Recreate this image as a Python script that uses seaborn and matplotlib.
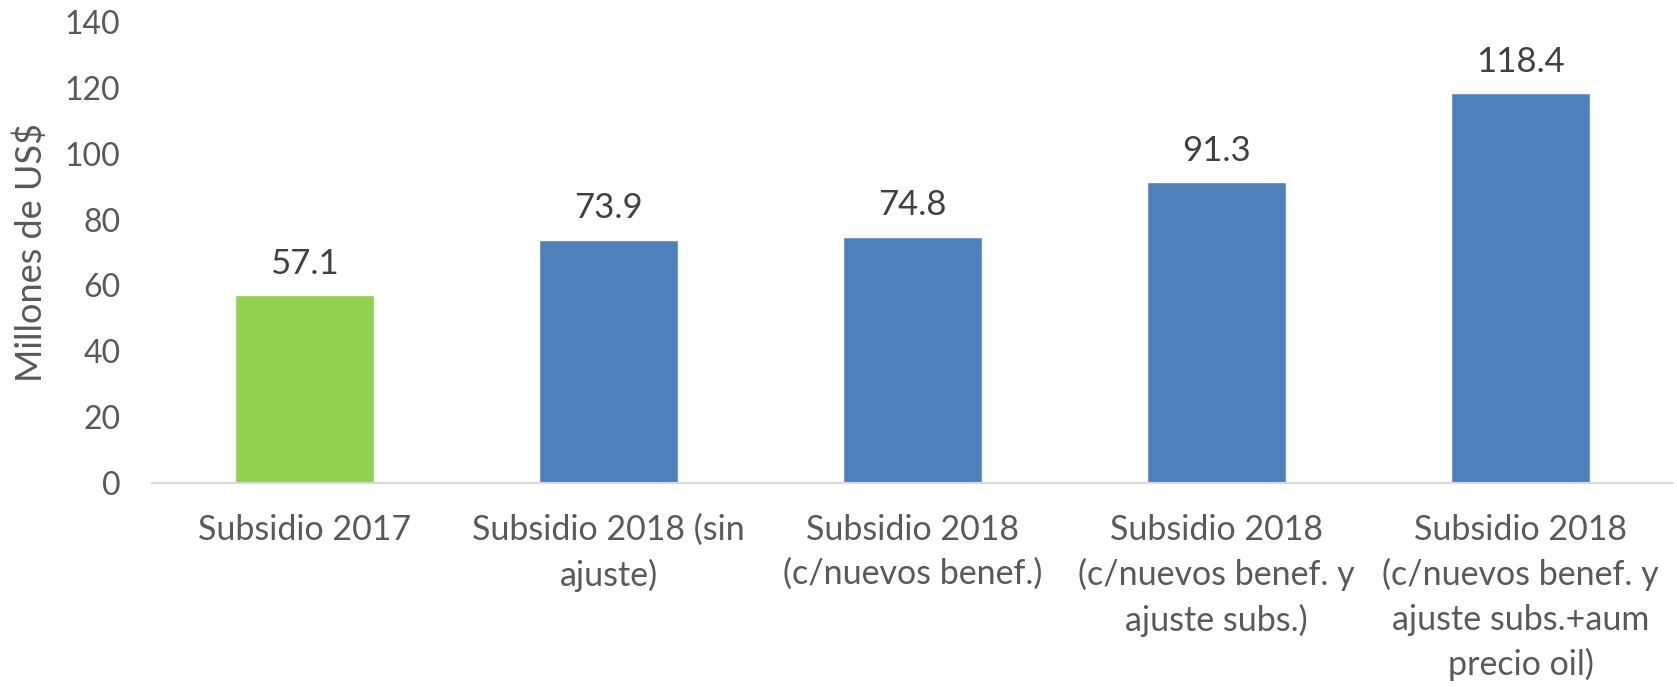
import matplotlib
matplotlib.use("Agg")
import matplotlib.pyplot as plt
import seaborn as sns
import pandas as pd

categorias = [
    "Subsidio 2017",
    "Subsidio 2018 (sin\najuste)",
    "Subsidio 2018\n(c/nuevos benef.)",
    "Subsidio 2018\n(c/nuevos benef. y\najuste subs.)",
    "Subsidio 2018\n(c/nuevos benef. y\najuste subs.+aum\nprecio oil)",
]
valores = [57.1, 73.9, 74.8, 91.3, 118.4]
colores = ["#92D050", "#4F81BD", "#4F81BD", "#4F81BD", "#4F81BD"]
ticks_y = [0, 20, 40, 60, 80, 100, 120, 140]

sns.set_theme(style="white")
plt.rcParams["font.family"] = ["Lato", "DejaVu Sans"]

df = pd.DataFrame({"cat": categorias, "val": valores})

fig = plt.figure(figsize=(16.77, 6.87), dpi=100)
ax = fig.add_axes([0.0909, 0.297, 0.9064, 0.671])

sns.barplot(data=df, x="cat", y="val", hue="cat", palette=colores,
            legend=False, width=0.457, saturation=1, ax=ax)

ax.set_ylim(0, 140)
ax.set_yticks(ticks_y)
ax.set_yticklabels([str(t) for t in ticks_y], fontsize=23, color="#595959")
ax.tick_params(axis="y", length=0, pad=23)
ax.tick_params(axis="x", length=0, pad=22)
for lbl in ax.get_xticklabels():
    lbl.set_fontsize(24.5)
    lbl.set_color("#595959")
    lbl.set_linespacing(1.47)
    lbl.set_verticalalignment("top")

ax.set_xlabel("")
ax.set_ylabel("Millones de US$", fontsize=26, color="#595959", labelpad=12)

for s in ["top", "right", "left"]:
    ax.spines[s].set_visible(False)
ax.spines["bottom"].set_color("#D9D9D9")
ax.spines["bottom"].set_linewidth(1.5)

for i, v in enumerate(valores):
    ax.annotate(f"{v:.1f}", xy=(i, v), xytext=(0, 11), textcoords="offset points",
                ha="center", va="bottom", fontsize=25, color="#404040")

fig.savefig("out.png", dpi=100, facecolor="white")
